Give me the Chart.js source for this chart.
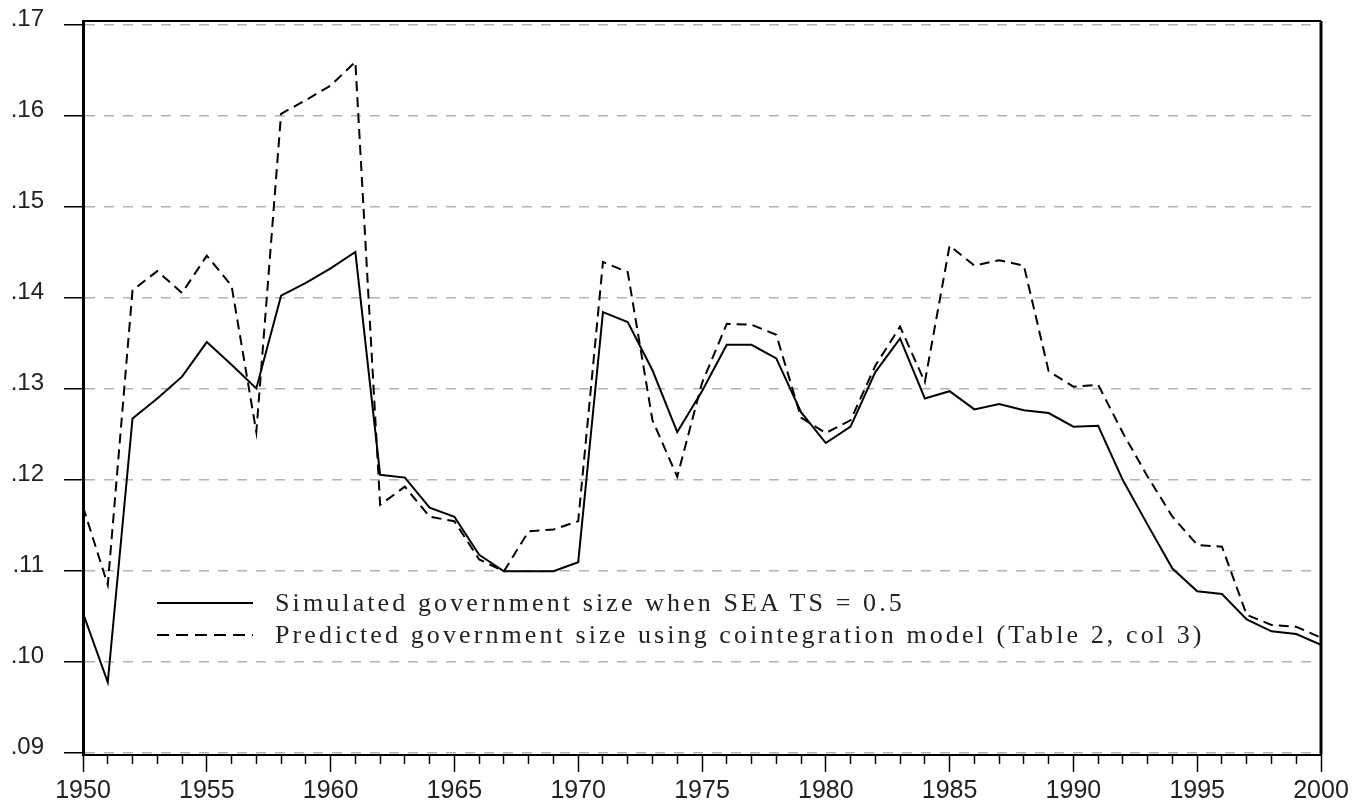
<!DOCTYPE html>
<html>
<head>
<meta charset="utf-8">
<script src="https://cdn.jsdelivr.net/npm/chart.js@4"></script>
<style>
  html, body { margin: 0; padding: 0; background: #fff; }
  #wrap { position: relative; width: 1360px; height: 805px; }
  #legend { position: absolute; left: 157px; top: 587px; font-family: 'Liberation Serif', 'Times New Roman', serif; font-size: 26px; letter-spacing: 3.1px; color: #222; }
  #legend .row { display: flex; align-items: center; height: 32px; white-space: nowrap; }
  #legend .swatch { width: 96px; height: 2px; margin-right: 22px; flex: none; }
</style>
</head>
<body>
<div id="wrap">
  <canvas id="chart"></canvas>
  <div id="legend"></div>
</div>
<script>
// years on the x axis
const years = [1950, 1951, 1952, 1953, 1954, 1955, 1956, 1957, 1958, 1959,
  1960, 1961, 1962, 1963, 1964, 1965, 1966, 1967, 1968, 1969,
  1970, 1971, 1972, 1973, 1974, 1975, 1976, 1977, 1978, 1979,
  1980, 1981, 1982, 1983, 1984, 1985, 1986, 1987, 1988, 1989,
  1990, 1991, 1992, 1993, 1994, 1995, 1996, 1997, 1998, 1999, 2000];

// simulated government size (SEATS = 0.5)
const simulated = [0.1053, 0.0977, 0.1267, 0.1289, 0.1313, 0.1351, 0.1326, 0.1300, 0.1402, 0.1416,
  0.1432, 0.1450, 0.1205, 0.1202, 0.1169, 0.1159, 0.1117, 0.1099, 0.1099, 0.1099,
  0.1109, 0.1384, 0.1373, 0.1320, 0.1252, 0.1297, 0.1348, 0.1348, 0.1333, 0.1274,
  0.1240, 0.1258, 0.1318, 0.1355, 0.1289, 0.1297, 0.1277, 0.1283, 0.1276, 0.1273,
  0.1258, 0.1259, 0.1199, 0.1150, 0.1102, 0.1077, 0.1074, 0.1046, 0.1033, 0.1030, 0.1018];

// predicted government size, cointegration model
const predicted = [0.1170, 0.1084, 0.1408, 0.1429, 0.1405, 0.1446, 0.1413, 0.1252, 0.1602, 0.1617,
  0.1633, 0.1659, 0.1172, 0.1192, 0.1159, 0.1154, 0.1112, 0.1099, 0.1143, 0.1145,
  0.1154, 0.1439, 0.1428, 0.1265, 0.1203, 0.1306, 0.1371, 0.1370, 0.1359, 0.1268,
  0.1251, 0.1265, 0.1325, 0.1368, 0.1307, 0.1457, 0.1435, 0.1441, 0.1435, 0.1319,
  0.1302, 0.1304, 0.1251, 0.1203, 0.1159, 0.1128, 0.1126, 0.1051, 0.1040, 0.1038, 0.1026];

const yTicks = [0.09, 0.10, 0.11, 0.12, 0.13, 0.14, 0.15, 0.16, 0.17];

const seriesLabels = [
  'Simulated government size when SEA TS = 0.5',
  'Predicted government size using cointegration model (Table 2, col 3)'
];

const toPoints = (vals) => vals.map((v, i) => ({ x: years[i], y: v }));

// box round the plot area (top and right sides)
const framePlugin = {
  id: 'frame',
  afterDraw(chart) {
    const { ctx, chartArea: a } = chart;
    ctx.save();
    ctx.strokeStyle = '#000';
    ctx.lineWidth = 2;
    ctx.beginPath();
    ctx.moveTo(a.left, a.top);
    ctx.lineTo(a.right, a.top);
    ctx.stroke();
    ctx.lineWidth = 3;
    ctx.beginPath();
    ctx.moveTo(a.right, a.top);
    ctx.lineTo(a.right, a.bottom);
    ctx.stroke();
    ctx.restore();
  }
};

const chart = new Chart(document.getElementById('chart'), {
  type: 'line',
  data: {
    datasets: [{
      label: seriesLabels[0],
      data: toPoints(simulated),
      borderColor: '#000',
      borderWidth: 2,
      pointRadius: 0,
      tension: 0
    }, {
      label: seriesLabels[1],
      data: toPoints(predicted),
      borderColor: '#000',
      borderWidth: 2,
      borderDash: [10, 6],
      pointRadius: 0,
      tension: 0
    }]
  },
  plugins: [framePlugin],
  options: {
    responsive: true,
    maintainAspectRatio: false,
    animation: false,
    layout: { padding: { top: 21, right: 39, left: 0, bottom: 0 } },
    plugins: {
      legend: { display: false },
      tooltip: { enabled: false }
    },
    scales: {
      x: {
        type: 'linear',
        min: 1950,
        max: 2000,
        afterFit: (s) => {
          s.height = 50;
          s.paddingLeft = 0;
          s.paddingRight = 0;
        },
        ticks: {
          stepSize: 1,
          autoSkip: false,
          maxRotation: 0,
          padding: 4,
          color: '#222',
          font: { family: "'Liberation Sans', Arial, sans-serif", size: 25 },
          callback: (v) => (v % 5 === 0 ? String(v) : '')
        },
        grid: {
          drawOnChartArea: false,
          drawTicks: true,
          tickLength: 17,
          tickColor: '#000',
          tickWidth: 1.5,
          tickBorderDash: (ctx) => (ctx.tick && ctx.tick.value % 5 !== 0 ? [8, 40] : [])
        },
        border: { display: true, color: '#000', width: 2 }
      },
      y: {
        min: 0.0897,
        max: 0.1704,
        afterFit: (s) => {
          s.width = 83;
          s.paddingTop = 0;
          s.paddingBottom = 0;
        },
        afterBuildTicks: (s) => { s.ticks = yTicks.map((v) => ({ value: v })); },
        ticks: {
          padding: 20,
          labelOffset: -5,
          color: '#222',
          font: { family: "'Liberation Sans', Arial, sans-serif", size: 24 },
          callback: (v) => '.' + String(Math.round(v * 100)).padStart(2, '0')
        },
        grid: {
          color: '#b4b4b4',
          lineWidth: 1.5,
          tickLength: 19,
          tickColor: '#000',
          tickWidth: 1.5
        },
        border: { display: true, color: '#000', width: 3, dash: [10, 9] }
      }
    }
  }
});

// legend drawn as html text, built from the datasets
const legendEl = document.getElementById('legend');
chart.data.datasets.forEach((ds) => {
  const row = document.createElement('div');
  row.className = 'row';
  const sw = document.createElement('span');
  sw.className = 'swatch';
  sw.style.background = ds.borderDash
    ? 'repeating-linear-gradient(to right, #000 0 12px, transparent 12px 19px)'
    : '#000';
  const txt = document.createElement('span');
  txt.textContent = ds.label;
  row.appendChild(sw);
  row.appendChild(txt);
  legendEl.appendChild(row);
});
</script>
</body>
</html>
